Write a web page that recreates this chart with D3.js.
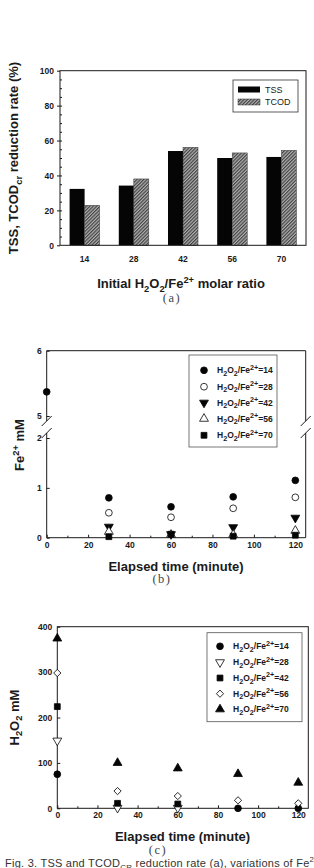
<!DOCTYPE html>
<html>
<head>
<meta charset="utf-8">
<script src="https://cdn.jsdelivr.net/npm/d3@7"></script>
<style>
  body { margin: 0; background: #fff; }
  svg { display: block; }
</style>
</head>
<body>
<svg id="fig" width="314" height="868"></svg>
<script>
// ========= Data (a) ========= //
const ratios = ['14', '28', '42', '56', '70'];
const tssRate = [32.3, 34.2, 54.0, 50.0, 50.6];
const tcodRate = [22.9, 38.0, 56.1, 52.9, 54.4];
const rateTicks = [0, 20, 40, 60, 80, 100];

// ========= Data (b) Fe2+ mM ========= //
const times = [0, 30, 60, 90, 120];
const timeTicks = [0, 20, 40, 60, 80, 100, 120];
const fe14 = [5.37, 0.80, 0.62, 0.82, 1.15];
const fe28 = [null, 0.50, 0.41, 0.59, 0.81];
const fe42 = [null, 0.22, 0.07, 0.21, 0.40];
const fe56 = [null, 0.12, 0.06, 0.06, 0.14];
const fe70 = [null, 0.02, 0.07, 0.03, 0.05];
const feTicksLow = [0, 1, 2];
const feTicksHigh = [5, 6];

// ========= Data (c) H2O2 mM ========= //
const h14 = [75, null, null, 0, 0];
const h28 = [149, 1, 1, null, null];
const h42 = [224, 11, 9.5, null, null];
const h56 = [298, 38, 27, 17.6, 11];
const h70 = [374, 100, 88, 75.6, 56.5];
const hTicks = [0, 100, 200, 300, 400];

const FONT = '"Liberation Sans", Arial, sans-serif';
const INK = '#1a1a1a';

const svg = d3.select('#fig');

// pattern for TCOD bars
const pat = svg.append('defs').append('pattern')
  .attr('id', 'hatch')
  .attr('patternUnits', 'userSpaceOnUse')
  .attr('width', 2.4).attr('height', 2.4)
  .attr('patternTransform', 'rotate(45)');
pat.append('rect').attr('width', 2.4).attr('height', 2.4).attr('fill', '#b0b0b0');
pat.append('line').attr('x1', 0.6).attr('x2', 0.6).attr('y1', 0).attr('y2', 2.4)
  .attr('stroke', '#3a3a3a').attr('stroke-width', 1.1);

// text with sub/superscripts
function rich(sel, parts, size, scriptScale = 0.72) {
  let shift = 0;
  parts.forEach(p => {
    const target = p.sub ? size * 0.3 : p.sup ? -size * 0.42 : 0;
    const ts = sel.append('tspan').text(p.t).attr('dy', target - shift);
    if (p.sub || p.sup) ts.attr('font-size', size * scriptScale);
    shift = target;
  });
  return sel;
}

function label(x, y, size, parts, opts = {}) {
  const t = svg.append('text')
    .attr('x', x).attr('y', y)
    .attr('font-family', opts.family || FONT)
    .attr('font-weight', opts.weight || 'bold')
    .attr('font-size', size)
    .attr('fill', opts.fill || INK)
    .attr('text-anchor', opts.anchor || 'middle');
  if (opts.rotate) t.attr('transform', `rotate(-90 ${x} ${y})`);
  if (opts.spacing) t.attr('letter-spacing', opts.spacing);
  return rich(t, parts, size, opts.scriptScale);
}

function styleAxis(g, size) {
  g.select('.domain').remove();
  g.selectAll('line').attr('stroke', INK);
  g.selectAll('text')
    .attr('font-family', FONT)
    .attr('font-weight', 'bold')
    .attr('font-size', size)
    .attr('fill', INK);
}

// ========= (a) bar chart ========= //
const ax = d3.scaleBand().domain(ratios).range([60, 306]).paddingInner(0.39).paddingOuter(0.195);
const axs = d3.scaleBand().domain(['TSS', 'TCOD']).range([0, ax.bandwidth()]);
const ay = d3.scaleLinear().domain([0, 100]).range([245.3, 70.7]);

const barData = ratios.map((r, i) => ({ r, tss: tssRate[i], tcod: tcodRate[i] }));

svg.append('g').selectAll('rect.tss')
  .data(barData).join('rect')
    .attr('x', d => ax(d.r) + axs('TSS'))
    .attr('y', d => ay(d.tss))
    .attr('width', axs.bandwidth())
    .attr('height', d => ay(0) - ay(d.tss))
    .attr('fill', '#050505');

svg.append('g').selectAll('rect.tcod')
  .data(barData).join('rect')
    .attr('x', d => ax(d.r) + axs('TCOD'))
    .attr('y', d => ay(d.tcod))
    .attr('width', axs.bandwidth())
    .attr('height', d => ay(0) - ay(d.tcod))
    .attr('fill', 'url(#hatch)')
    .attr('stroke', '#333').attr('stroke-width', 0.5);

// y axis with outer major ticks, inner minor ticks
svg.append('g').attr('transform', 'translate(60,0)')
  .call(d3.axisLeft(ay).tickValues(rateTicks).tickSize(3).tickPadding(3))
  .call(g => styleAxis(g, 8.5));
svg.append('g').attr('transform', 'translate(60,0)')
  .call(d3.axisRight(ay).tickValues(d3.range(5, 100, 5)).tickSize(2).tickFormat(''))
  .call(g => styleAxis(g, 8.5));
svg.append('g').attr('transform', 'translate(0,245.3)')
  .call(d3.axisBottom(ax).tickSize(0).tickPadding(11))
  .call(g => styleAxis(g, 8.5));

svg.append('rect')
  .attr('x', 60).attr('y', 70.7).attr('width', 246).attr('height', 245.3 - 70.7)
  .attr('fill', 'none').attr('stroke', INK).attr('stroke-width', 1);

// legend (a)
svg.append('rect').attr('x', 233).attr('y', 80).attr('width', 65).attr('height', 32)
  .attr('fill', '#fff').attr('stroke', '#333').attr('stroke-width', 0.8);
svg.append('rect').attr('x', 238).attr('y', 86.5).attr('width', 22).attr('height', 6).attr('fill', '#050505');
svg.append('rect').attr('x', 238).attr('y', 99).attr('width', 22).attr('height', 6)
  .attr('fill', 'url(#hatch)').attr('stroke', '#333').attr('stroke-width', 0.5);
label(265, 92.5, 9, [{ t: 'TSS' }], { anchor: 'start', weight: 'normal' });
label(265, 105, 9, [{ t: 'TCOD' }], { anchor: 'start', weight: 'normal' });

label(18, 158, 13, [{ t: 'TSS, TCOD' }, { t: 'cr', sub: true }, { t: ' reduction rate (%)' }], { rotate: true });
label(181, 288, 13, [{ t: 'Initial H' }, { t: '2', sub: true }, { t: 'O' }, { t: '2', sub: true },
  { t: '/Fe' }, { t: '2+', sup: true }, { t: ' molar ratio' }]);
label(172, 302, 12.5, [{ t: '(a)' }], { family: '"Liberation Serif", serif', weight: 'normal', fill: '#444', spacing: 1.5 });

// ========= symbols ========= //
function sym(type, size, rot) {
  const p = d3.symbol().type(type).size(size)();
  return { d: p, rot: rot || 0 };
}
const symShapes = {
  circle: sym(d3.symbolCircle, 36),
  triDown: sym(d3.symbolTriangle, 34, 180),
  triUp: sym(d3.symbolTriangle, 34),
  square: sym(d3.symbolSquare, 34),
  diamond: sym(d3.symbolSquare, 26, 45)
};

function drawSeries(xs, yfn, vals, shape, filled) {
  const pts = times.map((t, i) => ({ t, v: vals[i] })).filter(d => d.v !== null);
  svg.append('g').selectAll('path')
    .data(pts).join('path')
      .attr('d', symShapes[shape].d)
      .attr('transform', d => `translate(${xs(d.t)},${yfn(d.v)}) rotate(${symShapes[shape].rot})`)
      .attr('fill', filled ? '#050505' : '#fff')
      .attr('stroke', '#050505').attr('stroke-width', 0.8);
}

function legendEntry(x, y, shape, filled, ratio) {
  svg.append('path')
    .attr('d', symShapes[shape].d)
    .attr('transform', `translate(${x},${y}) rotate(${symShapes[shape].rot})`)
    .attr('fill', filled ? '#050505' : '#fff')
    .attr('stroke', '#050505').attr('stroke-width', 0.8);
  label(x + 13, y + 3, 8.5, [{ t: 'H' }, { t: '2', sub: true }, { t: 'O' }, { t: '2', sub: true },
    { t: '/Fe' }, { t: '2+', sup: true }, { t: '=' + ratio }], { anchor: 'start', scriptScale: 0.85 });
}

// ========= (b) Fe2+ ========= //
const bx = d3.scaleLinear().domain([0, 125]).range([46.7, 305.7]);
const byLow = d3.scaleLinear().domain([0, 2]).range([537.7, 438]);
const byHigh = d3.scaleLinear().domain([5, 6]).range([416, 350.7]);
const by = v => (v > 3 ? byHigh(v) : byLow(v));

svg.append('g').attr('transform', 'translate(46.7,0)')
  .call(d3.axisLeft(byLow).tickValues(feTicksLow).tickFormat(d3.format('d')).tickSize(-3).tickPadding(5))
  .call(g => styleAxis(g, 8.5));
svg.append('g').attr('transform', 'translate(46.7,0)')
  .call(d3.axisLeft(byHigh).tickValues(feTicksHigh).tickFormat(d3.format('d')).tickSize(-3).tickPadding(5))
  .call(g => styleAxis(g, 8.5));
svg.append('g').attr('transform', 'translate(0,537.7)')
  .call(d3.axisBottom(bx).tickValues(timeTicks).tickSize(-3).tickPadding(4))
  .call(g => styleAxis(g, 8.5));
svg.append('g').attr('transform', 'translate(0,537.7)')
  .call(d3.axisBottom(bx).tickValues(d3.range(10, 125, 20)).tickSize(-2).tickFormat(''))
  .call(g => styleAxis(g, 8.5));

// frame with axis break
const breakTop = 421, breakBot = 433;
const frameB = d3.path();
frameB.moveTo(46.7, breakTop); frameB.lineTo(46.7, 350.7); frameB.lineTo(305.7, 350.7); frameB.lineTo(305.7, breakTop);
frameB.moveTo(46.7, breakBot); frameB.lineTo(46.7, 537.7); frameB.lineTo(305.7, 537.7); frameB.lineTo(305.7, breakBot);
[46.7, 305.7].forEach(x => {
  [breakTop, breakBot].forEach(y => {
    frameB.moveTo(x - 5, y + 5); frameB.lineTo(x + 5, y - 5);
  });
});
svg.append('path').attr('d', frameB.toString())
  .attr('fill', 'none').attr('stroke', INK).attr('stroke-width', 1);

drawSeries(bx, by, fe14, 'circle', true);
drawSeries(bx, by, fe28, 'circle', false);
drawSeries(bx, by, fe42, 'triDown', true);
drawSeries(bx, by, fe56, 'triUp', false);
drawSeries(bx, by, fe70, 'square', true);

svg.append('rect').attr('x', 189).attr('y', 355).attr('width', 88).attr('height', 92)
  .attr('fill', '#fff').attr('stroke', '#555').attr('stroke-width', 0.8);
legendEntry(204, 370.3, 'circle', true, '14');
legendEntry(204, 386.7, 'circle', false, '28');
legendEntry(204, 402.7, 'triDown', true, '42');
legendEntry(204, 418.7, 'triUp', false, '56');
legendEntry(204, 435.3, 'square', true, '70');

label(24, 445, 13, [{ t: 'Fe' }, { t: '2+', sup: true }, { t: ' mM' }], { rotate: true });
label(176, 571, 13, [{ t: 'Elapsed time (minute)' }]);
label(162, 583, 12.5, [{ t: '(b)' }], { family: '"Liberation Serif", serif', weight: 'normal', fill: '#444', spacing: 1.5 });

// ========= (c) H2O2 ========= //
const cx = d3.scaleLinear().domain([0, 125]).range([57.3, 308.3]);
const cy = d3.scaleLinear().domain([0, 400]).range([808.3, 626.7]);

svg.append('g').attr('transform', 'translate(57.3,0)')
  .call(d3.axisLeft(cy).tickValues(hTicks).tickSize(-3).tickPadding(5))
  .call(g => styleAxis(g, 8.5));
svg.append('g').attr('transform', 'translate(0,808.3)')
  .call(d3.axisBottom(cx).tickValues(timeTicks).tickSize(-3).tickPadding(4))
  .call(g => styleAxis(g, 8.5));
svg.append('g').attr('transform', 'translate(0,808.3)')
  .call(d3.axisBottom(cx).tickValues(d3.range(10, 125, 20)).tickSize(-2).tickFormat(''))
  .call(g => styleAxis(g, 8.5));
svg.append('rect')
  .attr('x', 57.3).attr('y', 626.7).attr('width', 251).attr('height', 808.3 - 626.7)
  .attr('fill', 'none').attr('stroke', INK).attr('stroke-width', 1);

drawSeries(cx, cy, h14, 'circle', true);
drawSeries(cx, cy, h28, 'triDown', false);
drawSeries(cx, cy, h42, 'square', true);
drawSeries(cx, cy, h56, 'diamond', false);
drawSeries(cx, cy, h70, 'triUp', true);

svg.append('rect').attr('x', 207).attr('y', 632.7).attr('width', 95).attr('height', 89)
  .attr('fill', '#fff').attr('stroke', '#555').attr('stroke-width', 0.8);
legendEntry(220, 646.3, 'circle', true, '14');
legendEntry(220, 662.3, 'triDown', false, '28');
legendEntry(220, 678, 'square', true, '42');
legendEntry(220, 693.7, 'diamond', false, '56');
legendEntry(220, 709.3, 'triUp', true, '70');

label(18.5, 717.5, 13, [{ t: 'H' }, { t: '2', sub: true }, { t: 'O' }, { t: '2', sub: true }, { t: ' mM' }], { rotate: true });
label(182.5, 841, 13, [{ t: 'Elapsed time (minute)' }]);
label(158, 854, 12.5, [{ t: '(c)' }], { family: '"Liberation Serif", serif', weight: 'normal', fill: '#444', spacing: 1.5 });

// caption (cut by the page edge, as in the source)
label(5, 867, 11, [{ t: 'Fig. 3. TSS and TCOD' }, { t: 'CR', sub: true },
  { t: ' reduction rate (a), variations of Fe' }, { t: '2+', sup: true }],
  { anchor: 'start', weight: 'normal', fill: '#333', spacing: 0.25 });
</script>
</body>
</html>
